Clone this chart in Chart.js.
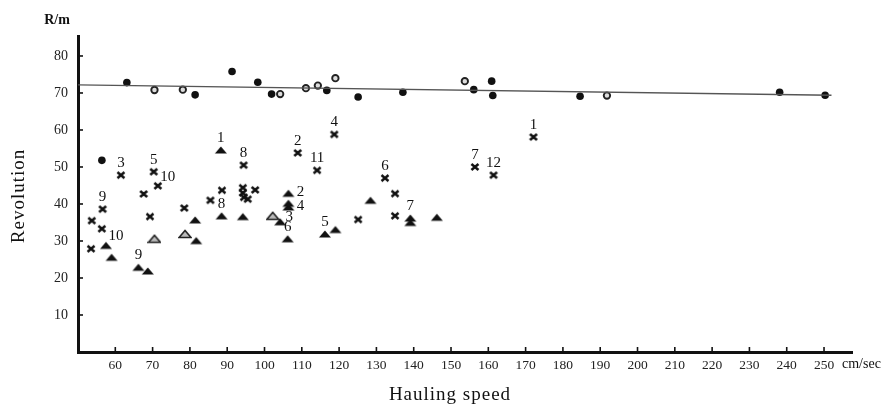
<!DOCTYPE html>
<html>
<head>
<meta charset="utf-8">
<script src="https://cdn.jsdelivr.net/npm/chart.js@4/dist/chart.umd.min.js"></script>
<style>
html,body{margin:0;padding:0;background:#fff;}
#wrap{width:890px;height:404px;}
</style>
</head>
<body>
<div id="wrap"><canvas id="c" width="890" height="404"></canvas></div>
<script>
// ---- data ----
const xTicks = [60,70,80,90,100,110,120,130,140,150,160,170,180,190,200,210,220,230,240,250];
const yTicks = [10,20,30,40,50,60,70,80];

const filledCircleX = [63.1,81.4,91.3,98.2,101.9,116.7,125.1,137.1,156.1,160.9,161.2,184.6,238.1,250.3,56.4];
const filledCircleY = [72.8,69.5,75.8,72.9,69.7,70.7,68.9,70.2,70.9,73.2,69.3,69.1,70.2,69.4,51.8];

const openCircleX = [70.5,78.1,104.2,111.1,114.3,119.0,153.7,191.8];
const openCircleY = [70.8,70.9,69.7,71.3,72.0,74.0,73.2,69.3];

const crossX = [53.7,53.5,56.6,56.4,61.5,67.6,70.3,71.4,69.3,78.5,85.5,88.6,94.4,94.2,94.2,94.5,95.5,97.5,108.9,114.1,118.7,125.1,132.3,135.0,135.0,156.4,161.4,172.1];
const crossY = [35.5,27.9,38.6,33.3,47.8,42.7,48.7,44.9,36.6,38.9,41.0,43.7,50.5,44.4,43.0,41.8,41.3,43.8,53.8,49.1,58.8,35.8,47.0,42.8,36.8,50.0,47.8,58.1];
const crossLabel = ['','','9','','3','','5','10','','','','','8','','','','','','2','11','4','','6','','','7','12','1'];

const triX = [57.5,59.0,66.2,68.7,81.4,81.7,88.3,88.5,94.2,104.2,106.4,106.4,106.4,106.2,116.2,119.0,128.4,139.1,139.1,146.2];
const triY = [28.8,25.6,22.9,21.9,35.7,30.1,54.6,36.8,36.6,35.2,42.9,39.2,40.2,30.6,31.9,33.1,41.0,36.2,35.0,36.4];
const triLabel = ['10','','9','','','','1','8','','3','2','4','','6','5','','','7','',''];

const openTriX = [70.5,78.7,102.2];
const openTriY = [30.6,31.9,36.8];

const lineX = [50, 252];
const lineY = [72.2, 69.4];

// label placement (not data): 'up' or 'right'
const crossPlace = crossLabel.map((l,i)=> i===7 ? 'upright' : 'up');
const triPlace = triLabel.map((l,i)=> i===0 ? 'upright' : (i===9 ? 'rightup' : ((i===10||i===11) ? 'right' : 'up')));

// ---- marker images ----
function makeCross(){
  const c=document.createElement('canvas'); c.width=10; c.height=10;
  const g=c.getContext('2d'); g.strokeStyle='#111'; g.lineWidth=2.5; g.lineCap='butt';
  g.beginPath(); g.moveTo(1.5,2); g.lineTo(8.5,8); g.moveTo(8.5,2); g.lineTo(1.5,8); g.stroke();
  return c;
}
function makeTri(filled){
  const c=document.createElement('canvas'); c.width=14; c.height=10;
  const g=c.getContext('2d');
  g.beginPath(); g.moveTo(1,8.5); g.lineTo(13,8.5); g.lineTo(7,1.5); g.closePath();
  if(filled){ g.fillStyle='#111'; g.fill(); }
  else { g.fillStyle='#bbb'; g.fill(); g.strokeStyle='#222'; g.lineWidth=1.6; g.stroke(); }
  return c;
}
const crossImg = makeCross();
const triImg = makeTri(true);
const openTriImg = makeTri(false);

const zip = (xs,ys)=> xs.map((x,i)=>({x:x,y:ys[i]}));

const serif = '"Liberation Serif", "DejaVu Serif", serif';

const decor = {
  id:'decor',
  afterDraw(chart){
    const ctx=chart.ctx, xs=chart.scales.x, ys=chart.scales.y, a=chart.chartArea;
    ctx.save();
    // inner tick marks
    ctx.strokeStyle='#111'; ctx.lineWidth=1.6;
    yTicks.forEach(v=>{ const p=ys.getPixelForValue(v); ctx.beginPath(); ctx.moveTo(a.left,p); ctx.lineTo(a.left+5,p); ctx.stroke(); });
    xTicks.forEach(v=>{ const p=xs.getPixelForValue(v); ctx.beginPath(); ctx.moveTo(p,a.bottom); ctx.lineTo(p,a.bottom-5); ctx.stroke(); });
    // point labels
    ctx.fillStyle='#111';
    ctx.font='15px '+serif;
    ctx.textAlign='center'; ctx.textBaseline='middle';
    chart.data.datasets.forEach((ds,di)=>{
      if(!ds.pointLabels) return;
      const meta=chart.getDatasetMeta(di);
      ds.pointLabels.forEach((t,i)=>{
        if(!t) return;
        const el=meta.data[i]; const pl=ds.labelPlace[i];
        let dx=0, dy=-12;
        if(pl==='upright'){dx=10;dy=-9;}
        else if(pl==='right'){dx=12;dy=-1;}
        else if(pl==='rightup'){dx=9;dy=-5;}
        ctx.fillText(t, el.x+dx, el.y+dy);
      });
    });
    // units and titles
    ctx.font='14px '+serif; ctx.textAlign='left';
    ctx.fillText('cm/sec', 842, 364);
    ctx.font='bold 14px '+serif; ctx.textAlign='center';
    ctx.fillText('R/m', 57, 20);
    ctx.font='19px '+serif;
    ctx.letterSpacing='1px';
    ctx.fillText('Hauling speed', 450, 395);
    ctx.translate(19,196); ctx.rotate(-Math.PI/2);
    ctx.fillText('Revolution', 0, 0);
    ctx.restore();
  }
};

new Chart(document.getElementById('c'), {
  type:'scatter',
  data:{
    datasets:[
      {label:'line', data:zip(lineX,lineY), showLine:true, borderColor:'#555', borderWidth:1.4, pointRadius:0, fill:false},
      {label:'filled circles', data:zip(filledCircleX,filledCircleY), pointStyle:'circle', pointRadius:3.8, backgroundColor:'#111', borderColor:'#111', borderWidth:0},
      {label:'open circles', data:zip(openCircleX,openCircleY), pointStyle:'circle', pointRadius:3.2, backgroundColor:'#ddd', borderColor:'#222', borderWidth:1.9},
      {label:'crosses', data:zip(crossX,crossY), pointStyle:crossImg, pointLabels:crossLabel, labelPlace:crossPlace},
      {label:'triangles', data:zip(triX,triY), pointStyle:triImg, pointLabels:triLabel, labelPlace:triPlace},
      {label:'open triangles', data:zip(openTriX,openTriY), pointStyle:openTriImg}
    ]
  },
  options:{
    responsive:false, animation:false, devicePixelRatio:1,
    layout:{padding:{left:0,right:38,top:36,bottom:0}},
    plugins:{legend:{display:false}, tooltip:{enabled:false}},
    scales:{
      x:{
        type:'linear', min:50, max:257.5,
        afterBuildTicks(s){ s.ticks = xTicks.map(v=>({value:v})); },
        afterFit(s){ s.height = 52; },
        grid:{display:false, drawTicks:false},
        border:{display:true, color:'#111', width:3},
        ticks:{font:{family:serif,size:13.5}, color:'#222', padding:5, maxRotation:0, autoSkip:false}
      },
      y:{
        type:'linear', min:0, max:85.4,
        afterBuildTicks(s){ s.ticks = yTicks.map(v=>({value:v})); },
        afterFit(s){ s.width = 78; },
        grid:{display:false, drawTicks:false},
        border:{display:true, color:'#111', width:3},
        ticks:{font:{family:serif,size:14}, color:'#222', padding:10}
      }
    }
  },
  plugins:[decor]
});
</script>
</body>
</html>
